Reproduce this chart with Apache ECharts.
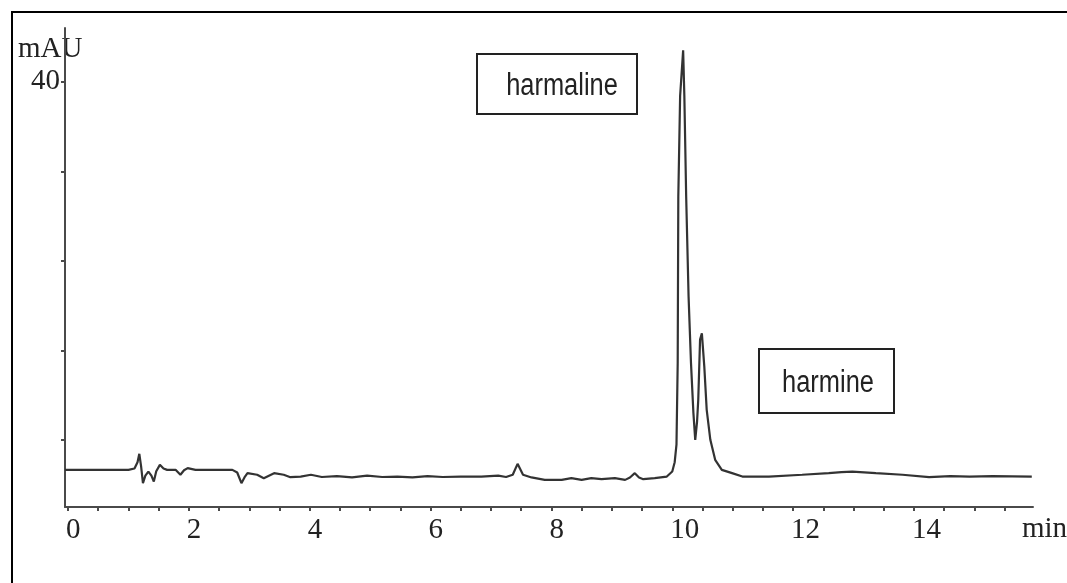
<!DOCTYPE html>
<html>
<head>
<meta charset="utf-8">
<script src="https://cdn.jsdelivr.net/npm/echarts@6/dist/echarts.min.js"></script>
<style>
html,body{margin:0;padding:0;background:#fff;}
#chart{width:1067px;height:583px;}
</style>
</head>
<body>
<div id="chart"></div>
<script>
// Retention time (min)
var times = [-0.05, 0.5, 1.0, 1.10, 1.15, 1.18, 1.21, 1.24, 1.28, 1.33, 1.38, 1.42, 1.46, 1.52, 1.58, 1.64, 1.78, 1.86, 1.92, 1.98, 2.11, 2.4, 2.72, 2.80, 2.87, 2.92, 2.97, 3.13, 3.24, 3.41, 3.57, 3.68, 3.85,
  4.02, 4.2, 4.45, 4.7, 4.95, 5.2, 5.45, 5.7, 5.95, 6.2, 6.5, 6.84, 7.12, 7.25, 7.36, 7.44, 7.53, 7.67, 7.89, 8.17, 8.33, 8.50, 8.66, 8.83, 9.05, 9.22, 9.30, 9.38, 9.45, 9.52, 9.71, 9.91,
  10.0, 10.04, 10.07, 10.09, 10.10, 10.13, 10.18, 10.20, 10.23, 10.27, 10.31, 10.35, 10.38, 10.41, 10.43, 10.46, 10.49, 10.53, 10.57, 10.63, 10.71, 10.82, 10.99, 11.16, 11.6, 12.15, 12.59, 12.8, 12.98, 13.37, 13.81, 14.25, 14.6, 14.92, 15.3, 15.95];
// Absorbance (mAU)
var absorbance = [-3.35, -3.35, -3.35, -3.2, -2.5, -1.56, -3.0, -4.84, -4.0, -3.54, -4.0, -4.66, -3.5, -2.79, -3.2, -3.35, -3.35, -3.9, -3.4, -3.16, -3.35, -3.35, -3.35, -3.65, -4.84, -4.2, -3.72, -3.9, -4.28, -3.72, -3.9, -4.17, -4.1,
  -3.9, -4.15, -4.05, -4.2, -4.0, -4.15, -4.1, -4.2, -4.05, -4.15, -4.1, -4.1, -4.0, -4.15, -3.9, -2.68, -3.9, -4.2, -4.47, -4.47, -4.28, -4.47, -4.28, -4.39, -4.28, -4.47, -4.2, -3.72, -4.2, -4.39, -4.28, -4.1,
  -3.54, -2.5, -0.5, 8.6, 27.2, 38.4, 43.5, 38.4, 27.2, 16.0, 8.57, 2.98, 0.0, 2.0, 4.47, 11.2, 11.9, 8.2, 3.35, 0.0, -2.23, -3.35, -3.72, -4.1, -4.1, -3.9, -3.72, -3.6, -3.54, -3.72, -3.9, -4.17, -4.05, -4.1, -4.05, -4.1];

var xTicks = [0, 0.5, 1, 1.5, 2, 2.5, 3, 3.5, 4, 4.5, 5, 5.5, 6, 6.5, 7, 7.5, 8, 8.5, 9, 9.5, 10, 10.5, 11, 11.5, 12, 12.5, 13, 13.5, 14, 14.5, 15, 15.5];
var xLabels = [0, 2, 4, 6, 8, 10, 12, 14];
var yTicks = [0, 10, 20, 30, 40];
var yLabels = [40];
var peakNames = ['harmaline', 'harmine'];

var seriesData = times.map(function (t, i) { return [t, absorbance[i]]; });

var chart = echarts.init(document.getElementById('chart'), null, {renderer: 'canvas'});
var serif = "'Liberation Serif', 'DejaVu Serif', serif";
var sans = "'Liberation Sans', Arial, sans-serif";
var axisColor = '#4a4a4a';

chart.setOption({
  backgroundColor: '#fff',
  animation: false,
  grid: {left: 65, right: 34, top: 28, bottom: 76, containLabel: false},
  xAxis: {
    type: 'value', min: -0.05, max: 15.97,
    axisLine: {onZero: false, lineStyle: {color: axisColor, width: 2}},
    axisTick: {show: true, length: 4, customValues: xTicks, lineStyle: {color: axisColor, width: 2}},
    axisLabel: {customValues: xLabels, fontFamily: serif, fontSize: 29, color: '#222', align: 'left', margin: 9, padding: [0, 0, 0, -2]},
    splitLine: {show: false}
  },
  yAxis: {
    type: 'value', min: -7.5, max: 46,
    axisLine: {show: true, onZero: false, lineStyle: {color: axisColor, width: 2}},
    axisTick: {show: true, length: 4, customValues: yTicks, lineStyle: {color: axisColor, width: 2}},
    axisLabel: {customValues: yLabels, fontFamily: serif, fontSize: 29, color: '#222', margin: 5, padding: [6, 0, 0, 0]},
    splitLine: {show: false}
  },
  series: [{
    type: 'line',
    data: seriesData,
    showSymbol: false,
    smooth: false,
    lineStyle: {color: '#333', width: 2.2},
    silent: true
  }],
  graphic: [
    {type: 'rect', shape: {x: 12, y: 12, width: 1100, height: 600}, style: {fill: 'none', stroke: '#000', lineWidth: 2}, silent: true},
    {type: 'text', x: 18, y: 49, style: {text: 'mAU', font: '29px ' + serif, fill: '#222', textVerticalAlign: 'middle', textAlign: 'left'}},
    {type: 'text', x: 1022, y: 529, style: {text: 'min', font: '29px ' + serif, fill: '#222', textVerticalAlign: 'middle', textAlign: 'left'}},
    {type: 'rect', shape: {x: 477, y: 54, width: 160, height: 60}, style: {fill: '#fff', stroke: '#222', lineWidth: 2}},
    {type: 'text', x: 562, y: 86, scaleX: 0.82, style: {text: peakNames[0], font: '31px ' + sans, fill: '#222', textVerticalAlign: 'middle', textAlign: 'center'}},
    {type: 'rect', shape: {x: 759, y: 349, width: 135, height: 64}, style: {fill: '#fff', stroke: '#222', lineWidth: 2}},
    {type: 'text', x: 828, y: 383, scaleX: 0.82, style: {text: peakNames[1], font: '31px ' + sans, fill: '#222', textVerticalAlign: 'middle', textAlign: 'center'}}
  ]
});
</script>
</body>
</html>
